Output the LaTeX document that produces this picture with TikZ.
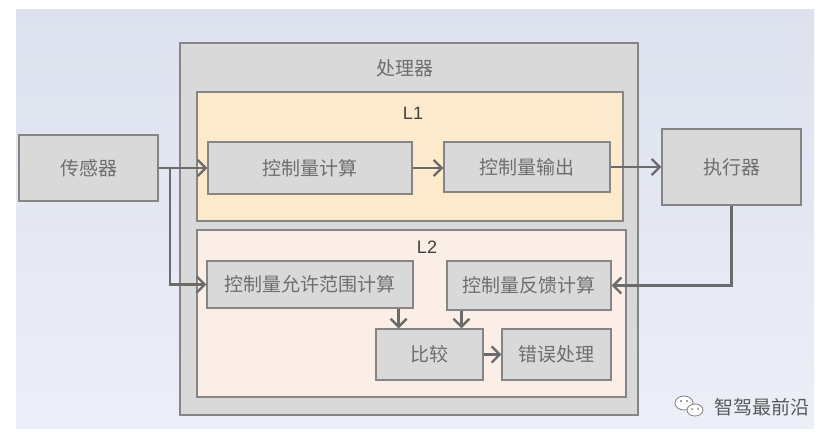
\documentclass[tikz,border=0pt]{standalone}
\usepackage{fontspec}
\setmainfont{Noto Sans CJK SC}
\newfontfamily\latinfont{Liberation Sans}
\usetikzlibrary{arrows.meta}
\definecolor{boxfill}{HTML}{D9D9D9}
\definecolor{boxline}{HTML}{858585}
\definecolor{flowline}{HTML}{6B6B6B}
\definecolor{lonefill}{HTML}{FDE9CB}
\definecolor{ltwofill}{HTML}{FBEEE6}
\definecolor{textgray}{HTML}{6E6E6E}
\definecolor{bgtop}{HTML}{DDE2EE}
\definecolor{bgbottom}{HTML}{ECEEF8}

\begin{document}
\begin{tikzpicture}[x=1pt, y=-1pt,
	block/.style={draw=boxline, line width=1.2pt, fill=boxfill, inner sep=0pt, text=textgray, font=\fontsize{19}{21}\selectfont},
	flow/.style={draw=flowline, line width=2.6pt, -{Straight Barb[length=8pt, width=16pt, line width=2.4pt]}}]
	
	\useasboundingbox (0,0) rectangle (839,442);
	\shade[top color=bgtop, bottom color=bgbottom] (16,9) rectangle (814,428);
	
	\draw[draw=boxline, line width=1.2pt, fill=boxfill] (180,43) rectangle (638,415);
	\node[text=textgray, font=\fontsize{19}{21}\selectfont] (proc) at (405,68) {处理器};
	
	\draw[draw=boxline, line width=1.2pt, fill=lonefill] (197,92) rectangle (623,221);
	\node[text=black!75, font=\latinfont\fontsize{18}{20}\selectfont] (lone) at (413,113) {L1};
	
	\draw[draw=boxline, line width=1.2pt, fill=ltwofill] (197,230) rectangle (626,397);
	\node[text=black!75, font=\latinfont\fontsize{18}{20}\selectfont] (ltwo) at (427,247) {L2};
	
	\node[block, minimum width=139pt, minimum height=66pt] (sensor) at (88.5,168) {传感器};
	\node[block, minimum width=139pt, minimum height=76pt] (act) at (731.5,167) {执行器};
	
	\node[block, minimum width=204pt, minimum height=52pt] (calc) at (310,168) {控制量计算};
	\node[block, minimum width=166pt, minimum height=50pt] (out) at (527,167) {控制量输出};
	
	\node[block, minimum width=206pt, minimum height=47pt] (allow) at (310,284.5) {控制量允许范围计算};
	\node[block, minimum width=164pt, minimum height=49pt] (fb) at (529,285.5) {控制量反馈计算};
	\node[block, minimum width=107pt, minimum height=51pt] (cmp) at (429.5,354.5) {比较};
	\node[block, minimum width=109pt, minimum height=51pt] (err) at (556.5,354.5) {错误处理};
	
	\coordinate (split) at (170,168);
	\draw[flow] (sensor.east) -- (calc.west);
	\draw[flow] (split) |- (allow.west);
	\draw[flow] (calc.east) -- (calc.east -| out.west);
	\draw[flow] (out.east) -- (out.east -| act.west);
	\draw[flow] (act.south) |- (fb.east);
	\draw[flow] ([xshift=-15pt]allow.south east) -- ([xshift=-15pt]allow.south east |- cmp.north);
	\draw[flow] ([xshift=15pt]fb.south west) -- ([xshift=15pt]fb.south west |- cmp.north);
	\draw[flow] (cmp) -- (err);
	
	\draw[draw=gray, line width=0.8pt, fill=white] (684,403) ellipse [x radius=9, y radius=7];
	\draw[draw=gray, line width=0.8pt, fill=white] (695,410) ellipse [x radius=8, y radius=6];
	\fill[gray] (681,401) circle (1.1) (687,401) circle (1.1) (692,409) circle (1) (698,409) circle (1);
	\node[text=black!65, font=\fontsize{19}{21}\selectfont] (mark) at (762,407) {智驾最前沿};
	
\end{tikzpicture}
\end{document}
